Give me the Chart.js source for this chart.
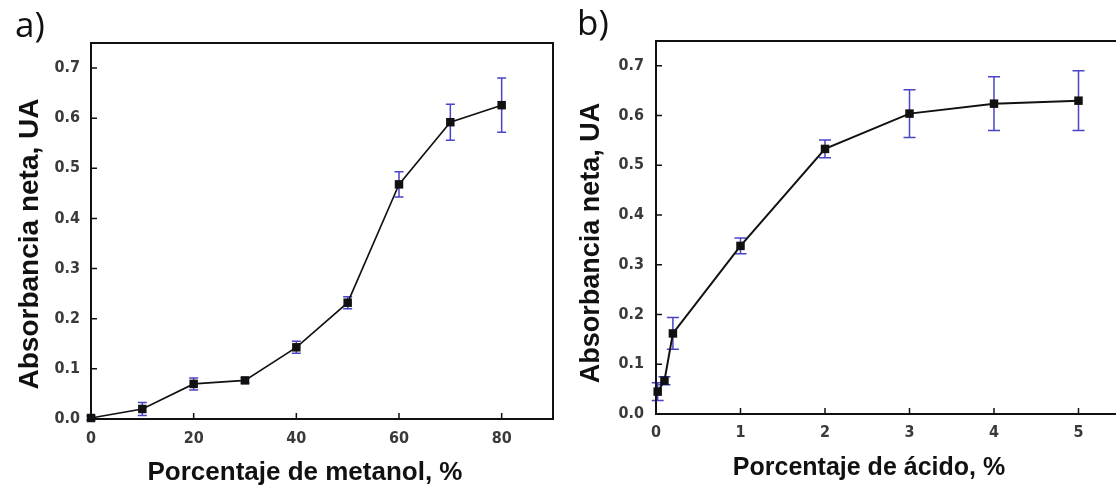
<!DOCTYPE html>
<html>
<head>
<meta charset="utf-8">
<script src="https://cdn.jsdelivr.net/npm/chart.js@4.4.1/dist/chart.umd.min.js"></script>
<style>
  html, body { margin: 0; padding: 0; background: #fff; overflow: hidden; width: 1116px; height: 485px; }
  .panel { position: absolute; top: 0; }
  .tag { position: absolute; font-family: 'Open Sans', 'DejaVu Sans', sans-serif; font-size: 35px; color: #111; line-height: 1; }
  .ttl { position: absolute; font-family: 'Liberation Sans', Arial, sans-serif; font-weight: bold; color: #111;
         line-height: 1; white-space: nowrap; transform: translate(-50%, -50%); }
  .ttl.v { transform: translate(-50%, -50%) rotate(-90deg); }
</style>
</head>
<body>
<div class="panel" style="left:0"><canvas id="chartA" width="560" height="485"></canvas></div>
<div class="panel" style="left:556px"><canvas id="chartB" width="620" height="485"></canvas></div>
<div class="tag" style="left:15px;top:6px">a)</div>
<div class="tag" style="left:577px;top:4px">b)</div>
<div class="ttl" style="left:305px;top:471px;font-size:26px">Porcentaje de metanol, %</div>
<div class="ttl v" style="left:29px;top:244px;font-size:28px">Absorbancia neta, UA</div>
<div class="ttl" style="left:869px;top:466px;font-size:25px">Porcentaje de ácido, %</div>
<div class="ttl v" style="left:590px;top:243px;font-size:27px">Absorbancia neta, UA</div>
<script>
// a) efecto del metanol
const metanolPct = [0, 10, 20, 30, 40, 50, 60, 70, 80];
const absMetanol = [0.002, 0.020, 0.070, 0.077, 0.143, 0.232, 0.468, 0.592, 0.626];
const errMetanol = [0.004, 0.013, 0.012, 0.005, 0.012, 0.012, 0.025, 0.036, 0.054];

// b) efecto del ácido
const acidoPct = [0.02, 0.1, 0.2, 1, 2, 3, 4, 5];
const absAcido = [0.045, 0.067, 0.162, 0.338, 0.533, 0.604, 0.624, 0.630];
const errAcido = [0.018, 0.008, 0.032, 0.016, 0.018, 0.048, 0.054, 0.060];

const xTicksMetanol = [0, 20, 40, 60, 80];
const xTicksAcido = [0, 1, 2, 3, 4, 5];
const yTicks = [0, 0.1, 0.2, 0.3, 0.4, 0.5, 0.6, 0.7];

const ERR_COLOR = '#4a44c8';
const INK = '#111';
const TICK_FONT = { family: "'Liberation Sans Narrow', 'DejaVu Sans Condensed', 'Arial Narrow', sans-serif", size: 16, weight: 'bold' };

// vertical error bars with caps, under the markers
const errorBars = {
  id: 'errorBars',
  beforeDatasetsDraw(chart) {
    const { ctx, scales: { x, y } } = chart;
    const ds = chart.data.datasets[0];
    const cap = ds.capHalf;
    ctx.save();
    ctx.strokeStyle = ERR_COLOR;
    ctx.lineWidth = 1.5;
    ds.data.forEach((p, i) => {
      const e = ds.errors[i];
      const px = x.getPixelForValue(p.x);
      const top = y.getPixelForValue(p.y + e);
      const bot = y.getPixelForValue(p.y - e);
      ctx.beginPath();
      ctx.moveTo(px, top); ctx.lineTo(px, bot);
      ctx.moveTo(px - cap, top); ctx.lineTo(px + cap, top);
      ctx.moveTo(px - cap, bot); ctx.lineTo(px + cap, bot);
      ctx.stroke();
    });
    ctx.restore();
  }
};

// closed frame + inward tick marks
const frame = {
  id: 'frame',
  afterDatasetsDraw(chart) {
    const { ctx, chartArea: a, scales: { x, y } } = chart;
    ctx.save();
    ctx.strokeStyle = INK;
    ctx.lineWidth = 2;
    ctx.strokeRect(a.left, a.top, a.right - a.left, a.bottom - a.top);
    ctx.lineWidth = 1.5;
    ctx.beginPath();
    x.ticks.forEach(t => {
      const px = x.getPixelForValue(t.value);
      ctx.moveTo(px, a.bottom); ctx.lineTo(px, a.bottom - 6);
    });
    y.ticks.forEach(t => {
      const py = y.getPixelForValue(t.value);
      ctx.moveTo(a.left, py); ctx.lineTo(a.left + 6, py);
    });
    ctx.stroke();
    ctx.restore();
  }
};

function makeChart(id, o) {
  return new Chart(document.getElementById(id), {
    type: 'scatter',
    data: {
      datasets: [{
        data: o.xs.map((v, i) => ({ x: v, y: o.ys[i] })),
        errors: o.errs,
        capHalf: o.capHalf,
        showLine: true,
        borderColor: INK,
        borderWidth: o.lineW,
        pointStyle: 'rect',
        pointRadius: 6,
        pointBackgroundColor: INK,
        pointBorderColor: INK,
        pointBorderWidth: 0,
        clip: false,
      }],
    },
    options: {
      responsive: false,
      animation: false,
      devicePixelRatio: 1,
      layout: { padding: o.pad },
      plugins: { legend: { display: false }, tooltip: { enabled: false } },
      scales: {
        x: {
          type: 'linear',
          min: 0,
          max: o.xMax,
          afterBuildTicks: s => { s.ticks = o.xTicks.map(v => ({ value: v })); },
          afterFit: s => { s.height = o.xAxisH; },
          grid: { display: false },
          border: { display: false },
          ticks: { color: '#3a3a3a', font: TICK_FONT, padding: o.xTickPad, maxRotation: 0, callback: v => String(v) },
        },
        y: {
          type: 'linear',
          min: 0,
          max: 0.75,
          afterBuildTicks: s => { s.ticks = yTicks.map(v => ({ value: v })); },
          afterFit: s => { s.width = o.yAxisW; },
          grid: { display: false },
          border: { display: false },
          ticks: { color: '#3a3a3a', font: TICK_FONT, padding: o.yTickPad, callback: v => Number(v).toFixed(1) },
        },
      },
    },
    plugins: [errorBars, frame],
  });
}

makeChart('chartA', {
  xs: metanolPct, ys: absMetanol, errs: errMetanol,
  xMax: 90, xTicks: xTicksMetanol,
  pad: { left: 0, top: 43, right: 7, bottom: 0 },
  xAxisH: 66, yAxisW: 91, lineW: 1.6,
  xTickPad: 2, yTickPad: 3, capHalf: 4.5,
});

makeChart('chartB', {
  xs: acidoPct, ys: absAcido, errs: errAcido,
  xMax: 6, xTicks: xTicksAcido,
  pad: { left: 0, top: 41, right: 13, bottom: 0 },
  xAxisH: 71, yAxisW: 100, lineW: 2,
  xTickPad: 1, yTickPad: 4, capHalf: 6,
});
</script>
</body>
</html>
